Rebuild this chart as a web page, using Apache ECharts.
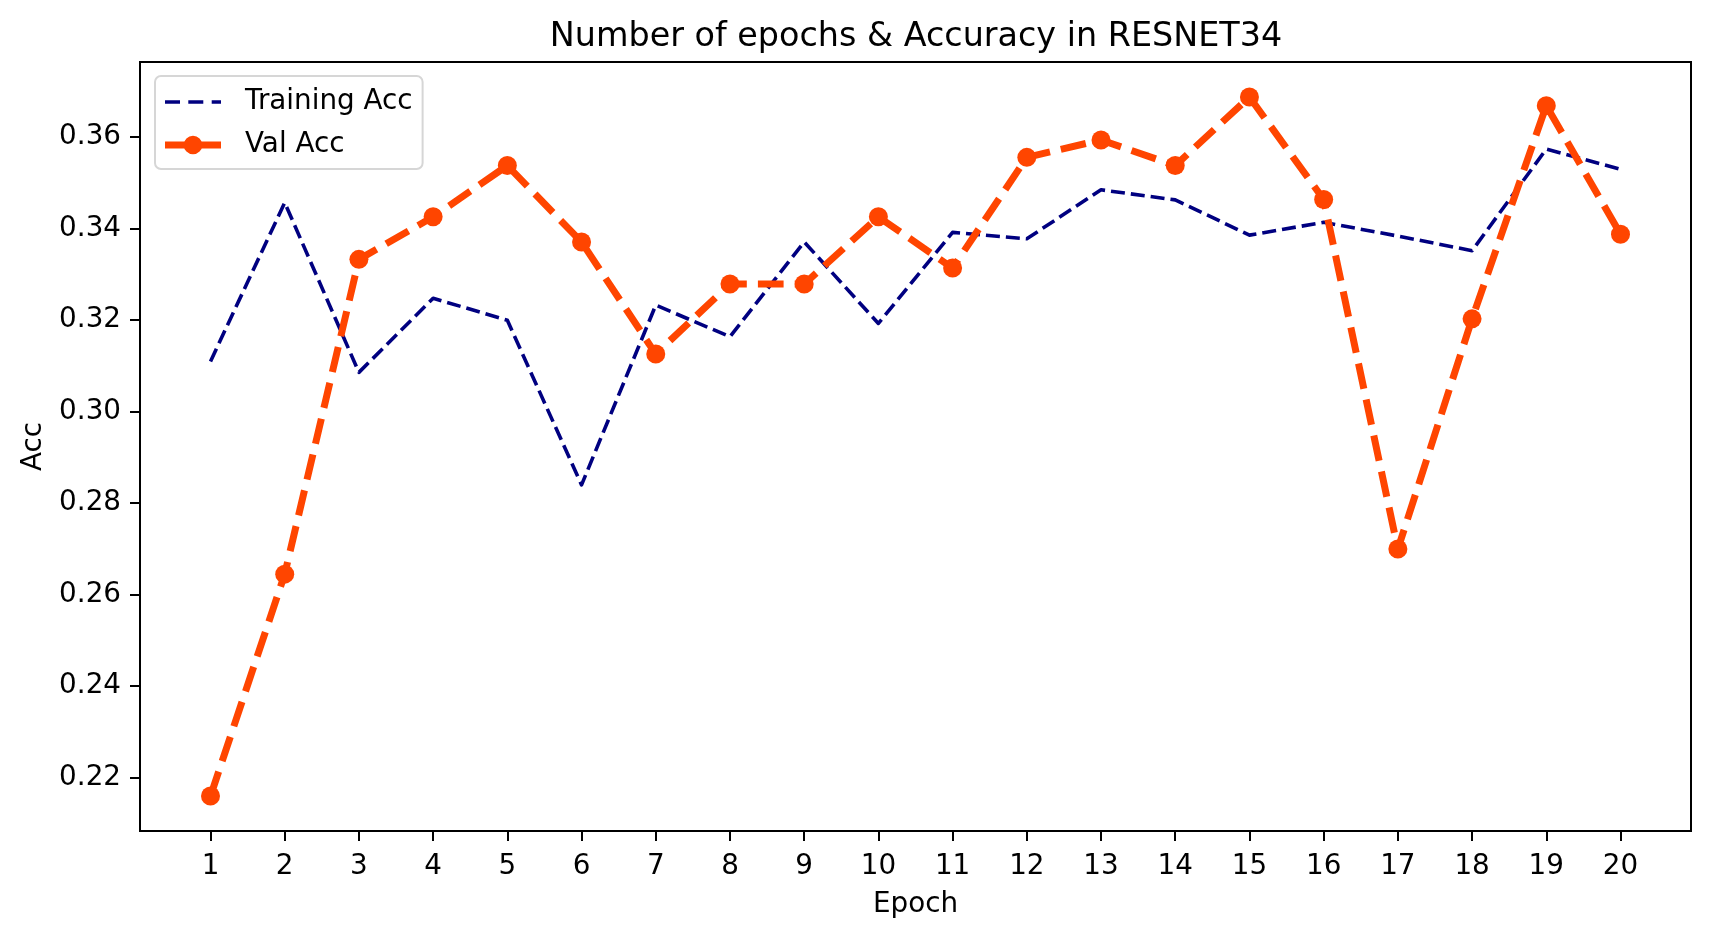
<!DOCTYPE html>
<html>
<head>
<meta charset="utf-8">
<script src="https://cdn.jsdelivr.net/npm/echarts@6/dist/echarts.min.js"></script>
<style>
html,body{margin:0;padding:0;background:#fff;}
#chart{width:1710px;height:939px;}
</style>
</head>
<body>
<div id="chart"></div>
<script>
const epochs = [1,2,3,4,5,6,7,8,9,10,11,12,13,14,15,16,17,18,19,20];
const trainAcc = [0.3110,0.3457,0.3086,0.3248,0.3200,0.2840,0.3233,0.3164,0.3371,0.3193,0.3392,0.3378,0.3485,0.3463,0.3386,0.3414,0.3384,0.3352,0.3574,0.3530];
const valAcc = [0.2160,0.2645,0.3333,0.3426,0.3538,0.3371,0.3126,0.3279,0.3279,0.3426,0.3314,0.3556,0.3594,0.3538,0.3688,0.3464,0.2700,0.3203,0.3669,0.3388];
const yTicks = [0.22,0.24,0.26,0.28,0.30,0.32,0.34,0.36];
const xTicks = epochs;

const FONT = 'DejaVu Sans';
// legend glyphs (56 x 24 box)
const trainIcon = 'path://M0 0 M56 24 M0 10.2 L15 10.2 L15 13.8 L0 13.8 Z M23.3 10.2 L38.3 10.2 L38.3 13.8 L23.3 13.8 Z M46.7 10.2 L56 10.2 L56 13.8 L46.7 13.8 Z';
const valIcon = 'path://M0 0 M56 24 M0 8.5 L56 8.5 L56 15.5 L0 15.5 Z M37.3 12 A9.3 9.3 0 1 1 18.7 12 A9.3 9.3 0 1 1 37.3 12 Z';

const chart = echarts.init(document.getElementById('chart'), null, {renderer:'canvas'});
const option = {
  animation: false,
  backgroundColor: '#fff',
  title: {
    text: 'Number of epochs & Accuracy in RESNET34',
    left: 911, textAlign: 'center', top: 16,
    textStyle: {fontFamily: FONT, fontSize: 33.4, fontWeight: 'normal', color: '#000'}
  },
  legend: {
    orient: 'vertical', left: 155, top: 76,
    padding: [12, 10, 10, 10],
    itemWidth: 56, itemHeight: 24, itemGap: 15,
    backgroundColor: '#fff', borderColor: '#d6d6d6', borderWidth: 2, borderRadius: 6,
    itemStyle: {borderWidth: 0},
    textStyle: {fontFamily: FONT, fontSize: 27.8, color: '#000', padding: [0,0,0,19], lineHeight: 28},
    data: [
      {name: 'Training Acc', icon: trainIcon, itemStyle: {color: '#000080', borderWidth: 0}},
      {name: 'Val Acc', icon: valIcon, itemStyle: {color: '#FF4500', borderWidth: 0}}
    ]
  },
  grid: {left: 140, right: 19, top: 62, bottom: 108, show: true, borderColor: '#000', borderWidth: 2, backgroundColor: 'transparent'},
  xAxis: {
    type: 'value', min: 0.05, max: 20.95,
    name: 'Epoch', nameLocation: 'middle', nameGap: 60,
    nameTextStyle: {fontFamily: FONT, fontSize: 27.8, color: '#000'},
    axisLine: {show: true, lineStyle: {color: '#000', width: 2}},
    axisTick: {show: true, inside: false, length: 10, lineStyle: {color: '#000', width: 2}, customValues: xTicks},
    axisLabel: {fontFamily: FONT, fontSize: 27.8, color: '#000', margin: 22, customValues: xTicks, formatter: v => String(v)},
    splitLine: {show: false}
  },
  yAxis: {
    type: 'value', min: 0.20836, max: 0.37644,
    name: 'Acc', nameLocation: 'middle', nameGap: 90, nameRotate: 90,
    nameTextStyle: {fontFamily: FONT, fontSize: 27.8, color: '#000'},
    axisLine: {show: true, lineStyle: {color: '#000', width: 2}},
    axisTick: {show: true, inside: false, length: 10, lineStyle: {color: '#000', width: 2}, customValues: yTicks},
    axisLabel: {fontFamily: FONT, fontSize: 27.8, color: '#000', margin: 19, customValues: yTicks, formatter: v => v.toFixed(2)},
    splitLine: {show: false}
  },
  series: [
    {
      name: 'Training Acc', type: 'line',
      data: epochs.map((e,i) => [e, trainAcc[i]]),
      symbol: 'none', showSymbol: false,
      lineStyle: {color: '#000080', width: 3.6, type: [14, 6], join: 'round'},
      itemStyle: {color: '#000080'}
    },
    {
      name: 'Val Acc', type: 'line',
      data: epochs.map((e,i) => [e, valAcc[i]]),
      symbol: 'circle', symbolSize: 19, showSymbol: true,
      lineStyle: {color: '#FF4500', width: 7, type: [25.7, 11.1], join: 'round'},
      itemStyle: {color: '#FF4500', borderWidth: 0}
    }
  ]
};
chart.setOption(option);
</script>
</body>
</html>
